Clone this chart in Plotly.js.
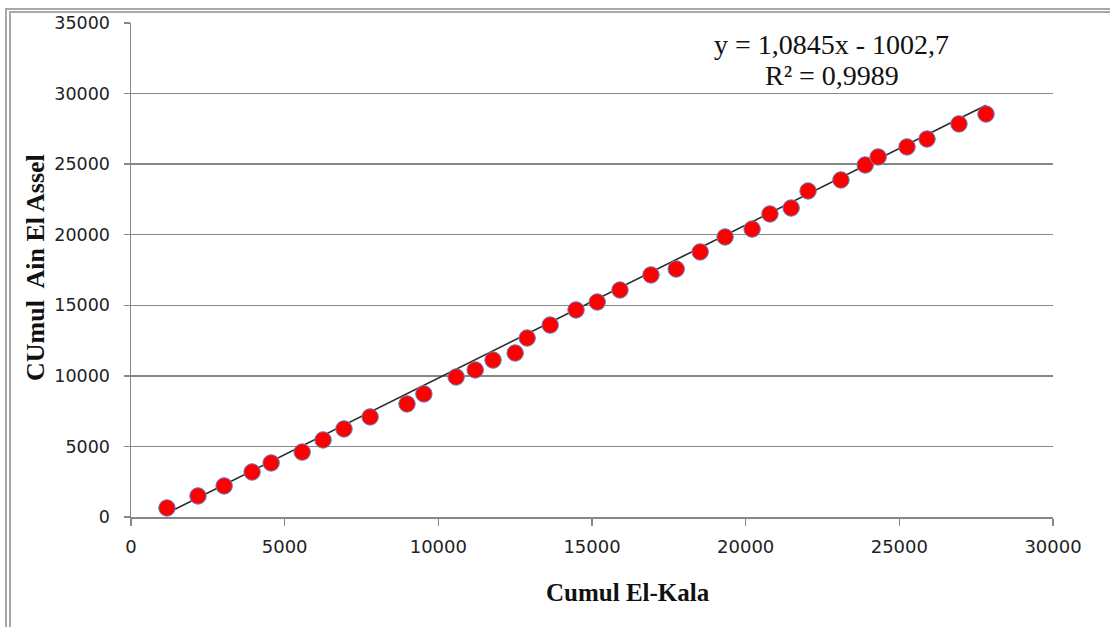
<!DOCTYPE html>
<html>
<head>
<meta charset="utf-8">
<script src="https://cdn.plot.ly/plotly-3.0.1.min.js"></script>
<style>
  html, body { margin: 0; padding: 0; background: #fff; }
  #wrap { position: relative; width: 1110px; height: 627px; overflow: hidden; }
  #chart { position: absolute; left: 0; top: 0; width: 1110px; height: 627px; }
  #frame { position: absolute; left: 5px; top: 8px; width: 1200px; height: 700px;
           border-left: 6px double #a8a8a8; border-top: 5px double #a8a8a8; pointer-events: none; }
</style>
</head>
<body>
<div id="wrap">
  <div id="chart"></div>
  <div id="frame"></div>
</div>
<script>
// Cumulative values
const cumulElKala = [1170, 2180, 3030, 3940, 4560, 5570, 6250, 6930, 7780, 8980,
  9530, 10580, 11200, 11780, 12500, 12890, 13640, 14480, 15170, 15910,
  16920, 17740, 18520, 19330, 20210, 20790, 21480, 22030, 23100, 23890,
  24310, 25250, 25900, 26940, 27820];
const cumulAinElAssel = [640, 1490, 2200, 3190, 3830, 4600, 5460, 6240, 7090, 8010,
  8720, 9920, 10420, 11120, 11620, 12680, 13600, 14670, 15230, 16080,
  17150, 17570, 18780, 19840, 20400, 21470, 21890, 23100, 23880, 24940,
  25510, 26220, 26780, 27850, 28550];
const trendSlope = 1.0845;
const trendIntercept = -1002.7;
const equationText = "y = 1,0845x - 1002,7";
const r2Text = "R² = 0,9989";
const xTitle = "Cumul El-Kala";
const yTitle = "CUmul  Ain El Assel";
const xTicks = [0, 5000, 10000, 15000, 20000, 25000, 30000];
const yTicks = [0, 5000, 10000, 15000, 20000, 25000, 30000, 35000];

const xMin = Math.min(...cumulElKala), xMax = Math.max(...cumulElKala);
const trendX = [xMin, xMax];
const trendY = trendX.map(v => trendSlope * v + trendIntercept);

const scatter = {
  x: cumulElKala, y: cumulAinElAssel, type: 'scatter', mode: 'markers',
  marker: { color: '#ff0000', size: 16.5, line: { color: '#5f86c4', width: 1 } },
  hoverinfo: 'x+y', showlegend: false
};
const trend = {
  x: trendX, y: trendY, type: 'scatter', mode: 'lines',
  line: { color: '#2b2b2b', width: 1.6 }, showlegend: false, hoverinfo: 'skip'
};

const layout = {
  width: 1110, height: 627,
  margin: { l: 131, r: 57, t: 23, b: 110 },
  paper_bgcolor: '#ffffff', plot_bgcolor: '#ffffff',
  xaxis: {
    range: [0, 30000], tickvals: xTicks, ticktext: xTicks.map(String),
    showgrid: false, zeroline: false,
    showline: true, linecolor: '#868686', linewidth: 1.5,
    ticks: 'outside', ticklen: 7, tickcolor: '#868686', tickwidth: 1.5,
    tickfont: { family: 'DejaVu Sans, sans-serif', size: 18, color: '#222' },
    ticklabelstandoff: 6
  },
  yaxis: {
    range: [0, 35000], tickvals: yTicks, ticktext: yTicks.map(String),
    showgrid: true, gridcolor: '#868686', gridwidth: 1.4, zeroline: false,
    showline: true, linecolor: '#868686', linewidth: 1.5,
    ticks: 'outside', ticklen: 6, tickcolor: '#868686', tickwidth: 1.5,
    tickfont: { family: 'DejaVu Sans, sans-serif', size: 17.5, color: '#222' },
    ticklabelstandoff: 10
  },
  annotations: [
    { text: equationText, xref: 'paper', yref: 'paper', x: 0.760, y: (517 - 44) / 494,
      xanchor: 'center', yanchor: 'middle', showarrow: false,
      font: { family: 'Liberation Serif, Times New Roman, serif', size: 28, color: '#111' } },
    { text: r2Text, xref: 'paper', yref: 'paper', x: 0.760, y: (517 - 75) / 494,
      xanchor: 'center', yanchor: 'middle', showarrow: false,
      font: { family: 'Liberation Serif, Times New Roman, serif', size: 28, color: '#111' } },
    { text: '<b>' + xTitle + '</b>', xref: 'paper', yref: 'paper', x: (628 - 131) / 922, y: (517 - 592) / 494,
      xanchor: 'center', yanchor: 'middle', showarrow: false,
      font: { family: 'Liberation Serif, Times New Roman, serif', size: 25, color: '#111' } },
    { text: '<b>' + yTitle + '</b>', xref: 'paper', yref: 'paper', x: (35 - 131) / 922, y: (517 - 268) / 494,
      xanchor: 'center', yanchor: 'middle', showarrow: false, textangle: -90,
      font: { family: 'Liberation Serif, Times New Roman, serif', size: 26, color: '#111' } }
  ]
};

Plotly.newPlot('chart', [trend, scatter], layout, { displayModeBar: false, staticPlot: true });
</script>
</body>
</html>
